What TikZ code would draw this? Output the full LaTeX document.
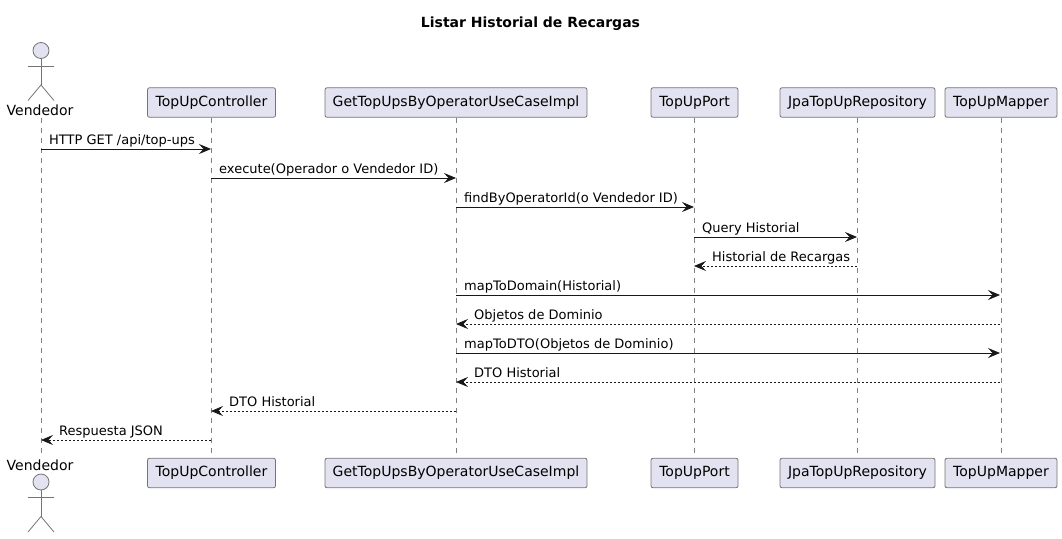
\documentclass[tikz,border=0pt]{standalone}
\usepackage{fontspec}
\setmainfont{DejaVu Sans}
\usetikzlibrary{arrows.meta}
\definecolor{partfill}{HTML}{E2E2F0}
\definecolor{partline}{HTML}{181818}
\begin{document}
\begin{tikzpicture}[x=1pt, y=-1pt,
      part/.style={rectangle, draw=partline!60, fill=partfill, line width=0.8pt, rounded corners=2pt, inner sep=0pt, minimum height=29.5pt, font=\fontsize{14}{16}\selectfont},
      actorname/.style={inner sep=0pt, font=\fontsize{14}{16}\selectfont, text height=10.5pt, text depth=0pt},
      actorbody/.style={draw=partline!60, line width=0.8pt},
      life/.style={draw=partline!55, line width=0.7pt, dash pattern=on 5pt off 5pt},
      msg/.style={draw=partline, line width=0.8pt, -{Stealth[length=12pt, width=10pt, inset=4.5pt]}},
      reply/.style={msg, dash pattern=on 2pt off 2pt},
      msgtext/.style={inner sep=0pt, anchor=base west, font=\fontsize{13}{15}\selectfont}]
      \useasboundingbox (0,0) rectangle (1062,538);

      \node[inner sep=0pt, font=\fontsize{14}{16}\selectfont\bfseries] (title) at (530.5,24) {Listar Historial de Recargas};

      % Participants
      \node[actorname] (vendtop) at (40,110) {Vendedor};
      \node[actorname] (vendbot) at (40,465.5) {Vendedor};
      \foreach \name/\x/\w/\txt in {ctrl/211.5/128/TopUpController, usecase/456/262/GetTopUpsByOperatorUseCaseImpl, port/694.5/87/TopUpPort, repo/857.5/155/JpaTopUpRepository, mapper/1001/112/TopUpMapper} {
        \node[part, minimum width=\w pt] (\name top) at (\x,102.5) {\txt};
        \node[part, minimum width=\w pt] (\name bot) at (\x,473) {\txt};
      }

      % Actor figures
      \foreach \pos/\y in {top/50.5, bot/482} {
        \node[circle, actorbody, fill=partfill, minimum size=16pt, inner sep=0pt] (head\pos) at (41,\y) {};
        \coordinate (hip\pos) at (41,\y+34.5);
        \coordinate (armL\pos) at (28,\y+15.5);
        \coordinate (armR\pos) at (54,\y+15.5);
        \coordinate (legL\pos) at (28,\y+50);
        \coordinate (legR\pos) at (54,\y+50);
        \draw[actorbody] (head\pos.south) -- (hip\pos);
        \draw[actorbody] (armL\pos) -- (armR\pos);
        \draw[actorbody] (legL\pos) -- (hip\pos) -- (legR\pos);
      }

      % Lifelines
      \coordinate (vendstart) at (41,118);
      \coordinate (vendend) at (41,453);
      \draw[life] (vendstart) -- (vendend);
      \foreach \name in {ctrl, usecase, port, repo, mapper} {
        \draw[life, shorten >=5pt] (\name top.south) -- (\name bot.north);
      }

      % Message rows
      \foreach \name/\x in {vend/41, ctrl/211, usecase/456, port/694, repo/857, mapper/1000} {
        \foreach \row/\y in {1/149, 2/178, 3/207, 4/237, 5/266, 6/295, 7/324, 8/353, 9/382, 10/411, 11/440} {
          \coordinate (\name-\row) at (\x,\y);
        }
      }

      % Arrows
      \draw[msg] (vend-1) -- (ctrl-1);
      \node[msgtext] (lab1) at ([shift={(8,-4.5)}]vend-1) {HTTP GET /api/top-ups};
      \draw[msg] (ctrl-2) -- (usecase-2);
      \node[msgtext] (lab2) at ([shift={(8,-4.5)}]ctrl-2) {execute(Operador o Vendedor ID)};
      \draw[msg] (usecase-3) -- (port-3);
      \node[msgtext] (lab3) at ([shift={(8,-4.5)}]usecase-3) {findByOperatorId(o Vendedor ID)};
      \draw[msg] (port-4) -- (repo-4);
      \node[msgtext] (lab4) at ([shift={(8,-4.5)}]port-4) {Query Historial};
      \draw[reply] (repo-5) -- (port-5);
      \node[msgtext] (lab5) at ([shift={(18,-4.5)}]port-5) {Historial de Recargas};
      \draw[msg] (usecase-6) -- (mapper-6);
      \node[msgtext] (lab6) at ([shift={(8,-4.5)}]usecase-6) {mapToDomain(Historial)};
      \draw[reply] (mapper-7) -- (usecase-7);
      \node[msgtext] (lab7) at ([shift={(18,-4.5)}]usecase-7) {Objetos de Dominio};
      \draw[msg] (usecase-8) -- (mapper-8);
      \node[msgtext] (lab8) at ([shift={(8,-4.5)}]usecase-8) {mapToDTO(Objetos de Dominio)};
      \draw[reply] (mapper-9) -- (usecase-9);
      \node[msgtext] (lab9) at ([shift={(18,-4.5)}]usecase-9) {DTO Historial};
      \draw[reply] (usecase-10) -- (ctrl-10);
      \node[msgtext] (lab10) at ([shift={(18,-4.5)}]ctrl-10) {DTO Historial};
      \draw[reply] (ctrl-11) -- (vend-11);
      \node[msgtext] (lab11) at ([shift={(18,-4.5)}]vend-11) {Respuesta JSON};
\end{tikzpicture}
\end{document}
